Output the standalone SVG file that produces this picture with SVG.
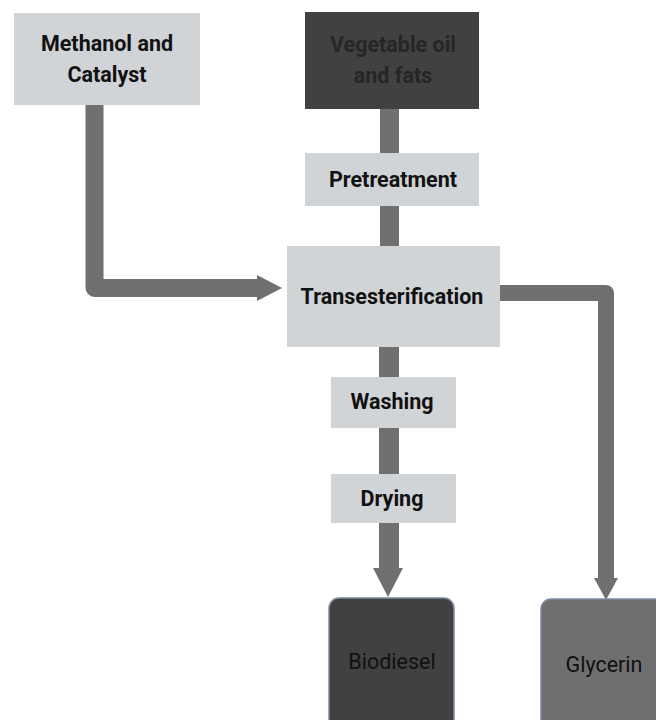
<svg xmlns="http://www.w3.org/2000/svg" width="656" height="720" viewBox="0 0 656 720">
<style>
.light{fill:#d1d4d7}
.t{font-family:Roboto,"Liberation Sans",sans-serif;font-size:21.5px;font-weight:bold;fill:#111;text-anchor:middle}
.tn{font-family:Roboto,"Liberation Sans",sans-serif;font-size:21.5px;fill:#111;text-anchor:middle}
.c{fill:#707070}
.cs{fill:none;stroke:#707070;stroke-linejoin:round}
</style>
<rect width="656" height="720" fill="#fff"/>
<g id="connectors">
<path class="cs" d="M94.5 105 V288 H262" stroke-width="18"/>
<polygon class="c" points="257,275 282,288 257,301"/>
<rect class="c" x="380" y="109" width="19" height="44"/>
<rect class="c" x="380" y="206" width="19" height="40"/>
<path class="cs" d="M500 293 H606 V580" stroke-width="16"/>
<polygon class="c" points="594,578 618,578 606,600"/>
<rect class="c" x="379" y="347" width="20" height="30"/>
<rect class="c" x="379" y="428" width="20" height="46"/>
<rect class="c" x="379" y="523" width="20" height="47"/>
<polygon class="c" points="373,568 403,568 388,597"/>
</g>
<g id="methanol">
<rect class="light" x="14" y="13" width="186" height="92"/>
<text class="t" x="107" y="51">Methanol and</text>
<text class="t" x="107" y="82">Catalyst</text>
</g>
<g id="vegetable">
<rect x="305" y="12" width="174" height="97" fill="#414141"/>
<text class="t" x="393" y="52" style="fill:#262626">Vegetable oil</text>
<text class="t" x="393" y="83" style="fill:#262626">and fats</text>
</g>
<g id="pretreatment">
<rect class="light" x="305" y="153" width="174" height="53"/>
<text class="t" x="393" y="187">Pretreatment</text>
</g>
<g id="transesterification">
<rect class="light" x="287" y="246" width="213" height="101"/>
<text class="t" x="392" y="304">Transesterification</text>
</g>
<g id="washing">
<rect class="light" x="331" y="377" width="125" height="51"/>
<text class="t" x="392" y="409">Washing</text>
</g>
<g id="drying">
<rect class="light" x="331" y="474" width="125" height="49"/>
<text class="t" x="392" y="506">Drying</text>
</g>
<g id="biodiesel">
<rect x="329" y="598" width="125" height="140" rx="10" fill="#414141" stroke="#7d8aa3" stroke-width="1.5"/>
<text class="tn" x="392" y="669">Biodiesel</text>
</g>
<g id="glycerin">
<rect x="541" y="599" width="125" height="140" rx="10" fill="#6f6f6f" stroke="#7d8aa3" stroke-width="1.5"/>
<text class="tn" x="604" y="672">Glycerin</text>
</g>
</svg>
